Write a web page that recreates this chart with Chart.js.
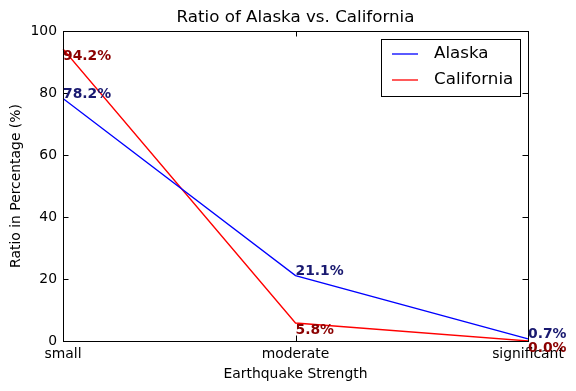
<!DOCTYPE html>
<html>
<head>
<meta charset="utf-8">
<script src="https://cdn.jsdelivr.net/npm/chart.js@4.4.0/dist/chart.umd.min.js"></script>
<style>
  html, body { margin: 0; padding: 0; background: #fff; }
  #chart { display: block; }
</style>
</head>
<body>
<canvas id="chart" width="576" height="391"></canvas>
<script>
// Categories and series
const categories = ['small', 'moderate', 'significant'];
const alaska = [78.2, 21.1, 0.7];
const california = [94.2, 5.8, 0.0];
const seriesNames = ['Alaska', 'California'];
const labelColors = ['#191970', '#8B0000'];
const chartTitle = 'Ratio of Alaska vs. California';

const FONT = 'DejaVu Sans';

// Frame, inward ticks, value labels, title and legend in matplotlib classic style
const classicPlugin = {
    id: 'classic',
    afterDatasetsDraw(chart) {
        const ctx = chart.ctx;
        const area = chart.chartArea;
        const xs = chart.scales.x;
        const ys = chart.scales.y;
        ctx.save();
        ctx.strokeStyle = '#000';
        ctx.lineWidth = 1;
        // ticks on all four sides, pointing in
        const tl = 5.5;
        ctx.beginPath();
        ys.ticks.forEach(t => {
            const y = Math.round(ys.getPixelForValue(t.value)) + 0.5;
            ctx.moveTo(area.left, y); ctx.lineTo(area.left + tl, y);
            ctx.moveTo(area.right, y); ctx.lineTo(area.right - tl, y);
        });
        categories.forEach((c, i) => {
            const x = Math.round(xs.getPixelForValue(i)) + 0.5;
            ctx.moveTo(x, area.bottom); ctx.lineTo(x, area.bottom - tl);
            ctx.moveTo(x, area.top); ctx.lineTo(x, area.top + tl);
        });
        ctx.stroke();
        // frame
        ctx.strokeRect(Math.round(area.left) + 0.5, Math.round(area.top) + 0.5,
            Math.round(area.right - area.left), Math.round(area.bottom - area.top));

        // title, centred over the plot area
        ctx.fillStyle = '#000';
        ctx.font = '16.7px ' + FONT;
        ctx.textAlign = 'center';
        ctx.textBaseline = 'middle';
        ctx.fillText(chartTitle, (area.left + area.right) / 2, 18);

        // value labels
        ctx.font = 'bold 13.9px ' + FONT;
        ctx.textAlign = 'left';
        chart.data.datasets.forEach((ds, di) => {
            const meta = chart.getDatasetMeta(di);
            ctx.fillStyle = labelColors[di];
            ctx.textBaseline = di === 0 ? 'alphabetic' : 'top';
            meta.data.forEach((pt, i) => {
                ctx.fillText(ds.data[i].toFixed(1) + '%', pt.x, pt.y + (di === 0 ? -0.5 : 0));
            });
        });

        // legend box
        const lx = 381, ly = 39, lw = 139, lh = 57;
        ctx.fillStyle = '#fff';
        ctx.fillRect(lx, ly, lw, lh);
        ctx.strokeStyle = '#000';
        ctx.lineWidth = 1;
        ctx.strokeRect(lx + 0.5, ly + 0.5, lw, lh);
        ctx.font = '16.7px ' + FONT;
        ctx.textBaseline = 'middle';
        chart.data.datasets.forEach((ds, di) => {
            const y = ly + 15 + di * 26;
            ctx.strokeStyle = ds.borderColor;
            ctx.lineWidth = 1.3;
            ctx.beginPath();
            ctx.moveTo(lx + 11, y); ctx.lineTo(lx + 37, y);
            ctx.stroke();
            ctx.fillStyle = '#000';
            ctx.fillText(ds.label, lx + 53, y);
        });
        ctx.restore();
    }
};

new Chart(document.getElementById('chart'), {
    type: 'line',
    data: {
        labels: categories,
        datasets: [
            { label: seriesNames[0], data: alaska, borderColor: '#0000ff', borderWidth: 1.3, pointRadius: 0, tension: 0, fill: false },
            { label: seriesNames[1], data: california, borderColor: '#ff0000', borderWidth: 1.3, pointRadius: 0, tension: 0, fill: false }
        ]
    },
    options: {
        responsive: false,
        animation: false,
        layout: { padding: { left: 0, right: 48, top: 31, bottom: 0 } },
        plugins: {
            legend: { display: false },
            tooltip: { enabled: false },
            title: { display: false }
        },
        scales: {
            x: {
                type: 'category',
                offset: false,
                grid: { display: false, drawTicks: false },
                border: { display: false },
                ticks: { color: '#000', font: { family: FONT, size: 13.9 }, padding: 5, maxRotation: 0, autoSkip: false },
                title: { display: true, text: 'Earthquake Strength', color: '#000', font: { family: FONT, size: 13.9 }, padding: { top: 2, bottom: 8 } },
                afterFit: s => { s.height = 50; }
            },
            y: {
                min: 0,
                max: 100,
                grid: { display: false, drawTicks: false },
                border: { display: false },
                ticks: { stepSize: 20, color: '#000', font: { family: FONT, size: 13.9 }, padding: 6 },
                title: { display: true, text: 'Ratio in Percentage (%)', color: '#000', font: { family: FONT, size: 13.9 }, padding: { top: 8, bottom: 2 } },
                afterFit: s => { s.width = 63; }
            }
        }
    },
    plugins: [classicPlugin]
});
</script>
</body>
</html>
